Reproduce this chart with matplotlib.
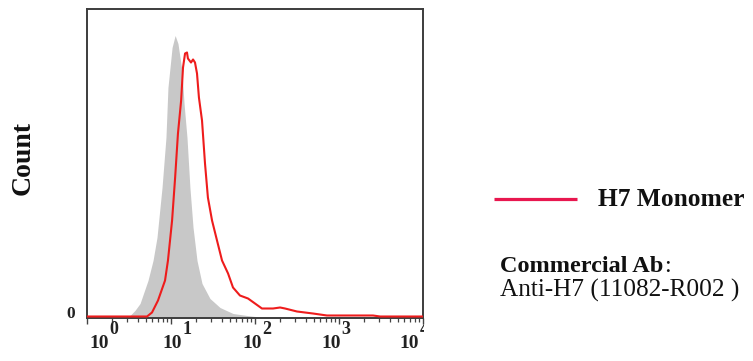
import matplotlib
matplotlib.use("Agg")
import matplotlib.pyplot as plt
import numpy as np
from matplotlib.transforms import Bbox

# Isotype / unstained control (filled grey histogram)
ctrl_intensity = [1, 3.25, 3.72, 4.28, 5.32, 6.11, 6.81, 7.82, 8.71, 9.20, 10.3, 11.2,
                  12.1, 13.5, 14.3, 15.5, 16.8, 18.3, 20.4, 23.4, 29.1, 38.3, 54.7,
                  80.4, 100, 10000]
ctrl_count = [0, 1, 6, 13, 36, 56, 79, 129, 179, 229, 269, 281,
              273, 246, 213, 179, 129, 89, 56, 33, 18, 9, 3,
              1, 0, 0]

# H7 Monomer stained sample (red outline histogram)
h7_intensity = [1, 5.18, 5.94, 7.0, 8.49, 9.2, 10.3, 11.2, 12.1, 13.2, 13.9, 14.7,
                15.5, 15.9, 17.3, 18.3, 19.3, 20.4, 21.5, 23.4, 25.4, 27.5, 30.8,
                35.3, 40.5, 47.8, 54.7, 66.2, 82.6, 100, 121, 164, 199, 228, 316,
                490, 719, 2540, 3090, 10000]
h7_count = [0, 0, 4, 16, 36, 56, 96, 139, 183, 216, 249, 263,
            264, 258, 254, 257, 254, 243, 219, 196, 153, 119, 96,
            76, 56, 43, 29, 21, 18, 13, 8, 8, 9, 8, 5,
            3, 1, 1, 0, 0]

decade_ticks = [1, 10, 100, 1000, 10000]
decade_exponents = ["0", "1", "2", "3", "4"]
label_centers = [1.39, 10.2, 92, 804, 6800]

series_label = "H7 Monomer"
ab_title = "Commercial Ab"
ab_name = "Anti-H7 (11082-R002 )"

SERIF = ["Liberation Serif", "DejaVu Serif"]

fig = plt.figure(figsize=(7.53, 3.61), dpi=100)
ax = fig.add_axes([87 / 753, 43 / 361, 336 / 753, 309 / 361])

ax.fill_between(ctrl_intensity, ctrl_count, 0, color="#c8c8c8", lw=0, zorder=1)
ax.plot(h7_intensity, h7_count, color="#ee1c1c", lw=1.5, zorder=3,
        solid_joinstyle="round")

ax.set_xscale("log")
ax.set_xlim(1, 10000)
ax.set_ylim(-1.5, 307.5)

for s in ax.spines.values():
    s.set_color("#3c3c3c")
    s.set_linewidth(1.4)

ax.set_xticks(decade_ticks)
ax.set_xticklabels([])
ax.xaxis.set_minor_locator(matplotlib.ticker.LogLocator(base=10, subs=np.arange(2, 10)))
ax.xaxis.set_minor_formatter(matplotlib.ticker.NullFormatter())
ax.tick_params(axis="x", which="major", direction="out", length=4.5, width=1.0, color="#444444")
ax.tick_params(axis="x", which="minor", direction="out", length=2.8, width=0.9, color="#444444")
ax.set_yticks([])

# decade labels: "10" with a raised exponent
clip = Bbox.from_extents(0, 0, 424, 361)
for xc, ex in zip(label_centers, decade_exponents):
    ax.annotate("10", xy=(xc, 0), xycoords=("data", "axes fraction"),
                xytext=(0, -18.5), textcoords="offset points",
                ha="center", va="center", fontsize=14, fontweight="bold",
                family=SERIF, color="#222222", annotation_clip=False)
    t = ax.annotate(ex, xy=(xc, 0), xycoords=("data", "axes fraction"),
                    xytext=(7.5, -8.0), textcoords="offset points",
                    ha="left", va="center", fontsize=13, fontweight="bold",
                    family=SERIF, color="#222222", annotation_clip=False)
    t.set_clip_box(clip)
    t.set_clip_on(True)

ax.annotate("0", xy=(0, 0), xycoords="axes fraction", xytext=(-12, 3),
            textcoords="offset points", ha="center", va="center",
            fontsize=12.5, fontweight="bold", family=SERIF, color="#222222",
            annotation_clip=False)

fig.text(23 / 753, 1 - 158 / 361, "Count", rotation=90, ha="center", va="center",
         fontsize=20, fontweight="bold", family=SERIF, color="#111111")

# legend entry
fig.add_artist(plt.Line2D([494 / 753, 577 / 753], [1 - 199 / 361] * 2,
                          color="#e8174f", lw=2.3, solid_capstyle="butt"))
fig.text(598 / 753, 1 - 206 / 361, series_label, ha="left", va="baseline",
         fontsize=18.4, fontweight="bold", family=SERIF, color="#111111")

t1 = fig.text(500 / 753, 1 - 272 / 361, ab_title, ha="left", va="baseline",
              fontsize=17.5, fontweight="bold", family=SERIF, color="#111111")
fig.canvas.draw()
bb = t1.get_window_extent()
fig.text(bb.x1 / 753 + 0.001, 1 - 272 / 361, ":", ha="left", va="baseline",
         fontsize=17.5, family=SERIF, color="#111111")
fig.text(500 / 753, 1 - 297 / 361, ab_name, ha="left", va="baseline",
         fontsize=18.2, family=SERIF, color="#111111")

fig.savefig("out.png", dpi=100)
